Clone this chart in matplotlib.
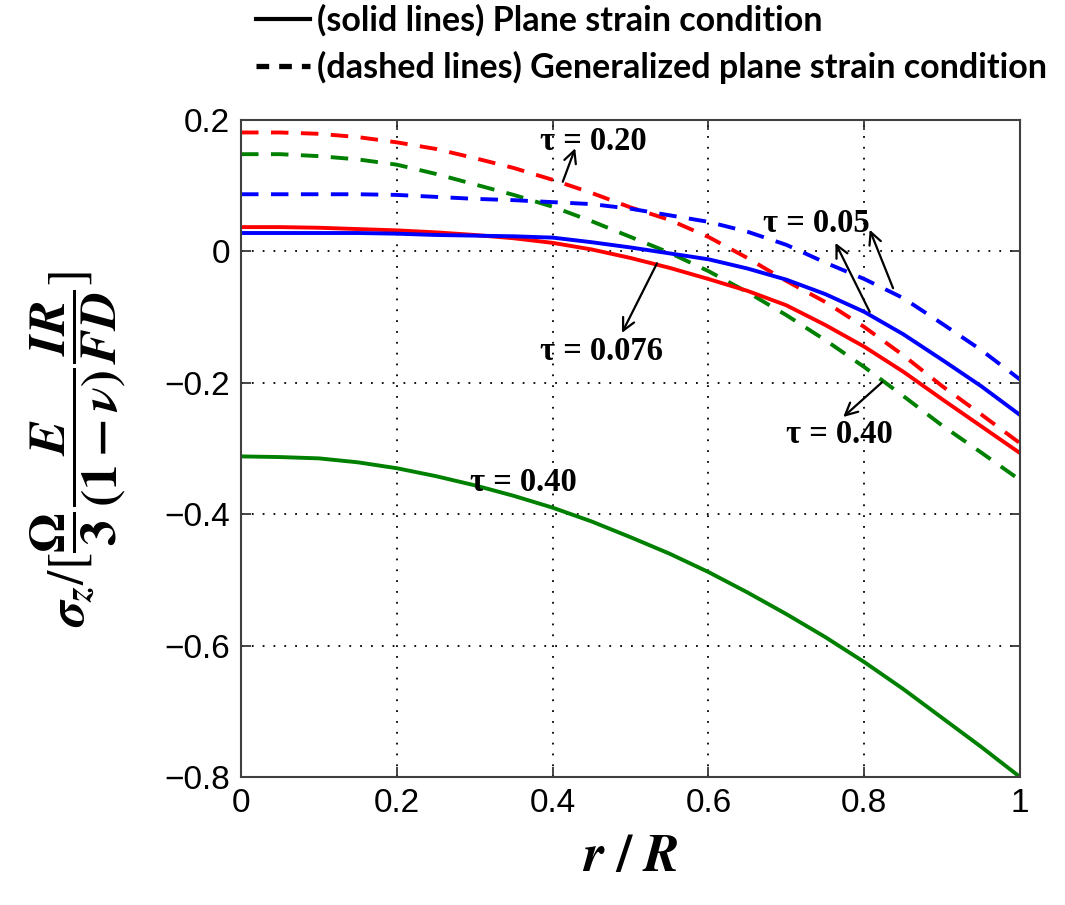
import numpy as np
import matplotlib
matplotlib.use('Agg')
import matplotlib.pyplot as plt
from matplotlib.lines import Line2D

# r/R sample points
r = [0.0, 0.05, 0.1, 0.15, 0.2, 0.25, 0.3, 0.35, 0.4, 0.45, 0.5,
     0.55, 0.6, 0.65, 0.7, 0.75, 0.8, 0.85, 0.9, 0.95, 1.0]

# plane strain (solid lines)
plane_005 = [0.028, 0.028, 0.028, 0.028, 0.027, 0.025, 0.024, 0.023, 0.021, 0.014, 0.006,
             -0.003, -0.012, -0.026, -0.043, -0.065, -0.092, -0.126, -0.165, -0.205, -0.249]
plane_0076 = [0.037, 0.037, 0.036, 0.034, 0.032, 0.029, 0.025, 0.020, 0.013, 0.003, -0.010,
              -0.025, -0.042, -0.060, -0.082, -0.112, -0.145, -0.183, -0.225, -0.266, -0.307]
plane_040 = [-0.312, -0.313, -0.315, -0.321, -0.330, -0.342, -0.356, -0.372, -0.390, -0.411, -0.435,
             -0.460, -0.488, -0.519, -0.552, -0.587, -0.625, -0.666, -0.710, -0.754, -0.800]

# generalized plane strain (dashed lines)
gen_005 = [0.087, 0.087, 0.087, 0.087, 0.086, 0.083, 0.080, 0.078, 0.075, 0.072, 0.065,
           0.055, 0.045, 0.030, 0.010, -0.017, -0.042, -0.071, -0.110, -0.150, -0.195]
gen_020 = [0.181, 0.181, 0.179, 0.174, 0.166, 0.156, 0.142, 0.127, 0.109, 0.089, 0.067,
           0.048, 0.022, -0.010, -0.045, -0.077, -0.115, -0.158, -0.205, -0.248, -0.292]
gen_040 = [0.148, 0.148, 0.145, 0.140, 0.132, 0.118, 0.102, 0.086, 0.068, 0.046, 0.022,
           -0.002, -0.030, -0.062, -0.097, -0.135, -0.176, -0.220, -0.265, -0.306, -0.348]

xticks = [0, 0.2, 0.4, 0.6, 0.8, 1]
xticklabels = ['0', '0.2', '0.4', '0.6', '0.8', '1']
yticks = [-0.8, -0.6, -0.4, -0.2, 0, 0.2]
yticklabels = ['\u22120.8', '\u22120.6', '\u22120.4', '\u22120.2', '0', '0.2']

plt.rcParams['mathtext.fontset'] = 'stix'

fig = plt.figure(figsize=(10.65, 9.05), dpi=100)
ax = fig.add_axes([0.2263, 0.1414, 0.7315, 0.726])

lw = 2.8
dash = (4.5, 3.2)
ax.plot(r, gen_020, color='#ff0000', lw=lw, dashes=dash)
ax.plot(r, gen_040, color='#008000', lw=lw, dashes=dash)
ax.plot(r, gen_005, color='#0000ff', lw=lw, dashes=dash)
ax.plot(r, plane_0076, color='#ff0000', lw=lw)
ax.plot(r, plane_005, color='#0000ff', lw=lw)
ax.plot(r, plane_040, color='#008000', lw=lw)

ax.set_xlim(0, 1)
ax.set_ylim(-0.8, 0.2)
ax.set_xticks(xticks)
ax.set_xticklabels(xticklabels)
ax.set_yticks(yticks)
ax.set_yticklabels(yticklabels)
ax.tick_params(direction='in', length=7, width=1.2, top=True, right=True,
               labelsize=24, pad=8, colors='#262626')
for tl in ax.get_xticklabels() + ax.get_yticklabels():
    tl.set_color('black')
    tl.set_family('Liberation Sans')
for s in ax.spines.values():
    s.set_linewidth(1.5)
    s.set_color('#404040')
ax.grid(True, color='black', linestyle=(0, (1, 5)), linewidth=1.3)

ax.set_xlabel(r'$\boldsymbol{r\ /\ R}$', fontsize=38, labelpad=8)
ax.set_ylabel(r'$\boldsymbol{\sigma}_{\boldsymbol{z}}/[\dfrac{\boldsymbol{\Omega}}{\mathbf{3}}'
              r'\dfrac{\boldsymbol{E}}{\mathbf{(1-}\boldsymbol{\nu}\mathbf{)}}'
              r'\dfrac{\boldsymbol{IR}}{\boldsymbol{FD}}]$', fontsize=37, labelpad=26)

tfont = dict(family='Liberation Serif', fontweight='bold', fontsize=23.5, va='center', ha='left')
ax.text(0.384, 0.167, '\u03c4 = 0.20', **tfont)
ax.text(0.67, 0.043, '\u03c4 = 0.05', **tfont)
ax.text(0.70, -0.279, '\u03c4 = 0.40', **tfont)
ax.text(0.384, -0.153, '\u03c4 = 0.076', **tfont)
ax.text(0.294, -0.351, '\u03c4 = 0.40', **tfont)

aprops = dict(arrowstyle='->', color='black', lw=1.6, mutation_scale=22, shrinkA=0, shrinkB=0)
ax.annotate('', xy=(0.429, 0.157), xytext=(0.413, 0.106), arrowprops=aprops)
ax.annotate('', xy=(0.763, 0.013), xytext=(0.807, -0.092), arrowprops=aprops)
ax.annotate('', xy=(0.807, 0.033), xytext=(0.837, -0.056), arrowprops=aprops)
ax.annotate('', xy=(0.773, -0.252), xytext=(0.823, -0.199), arrowprops=aprops)
ax.annotate('', xy=(0.489, -0.124), xytext=(0.534, -0.018), arrowprops=aprops)

handles = [Line2D([], [], color='black', lw=3),
           Line2D([], [], color='black', lw=3.8, dashes=(2.4, 1.9))]
labels = ['(solid lines) Plane strain condition',
          '(dashed lines) Generalized plane strain condition']
fig.legend(handles, labels, loc='upper left', bbox_to_anchor=(0.237, 0.999),
           frameon=False, borderpad=0.1, borderaxespad=0, handlelength=1.6,
           handletextpad=0.2, labelspacing=0.42,
           prop=dict(family='Lato', weight='bold', size=24.5))

fig.savefig('out.png', dpi=100)
